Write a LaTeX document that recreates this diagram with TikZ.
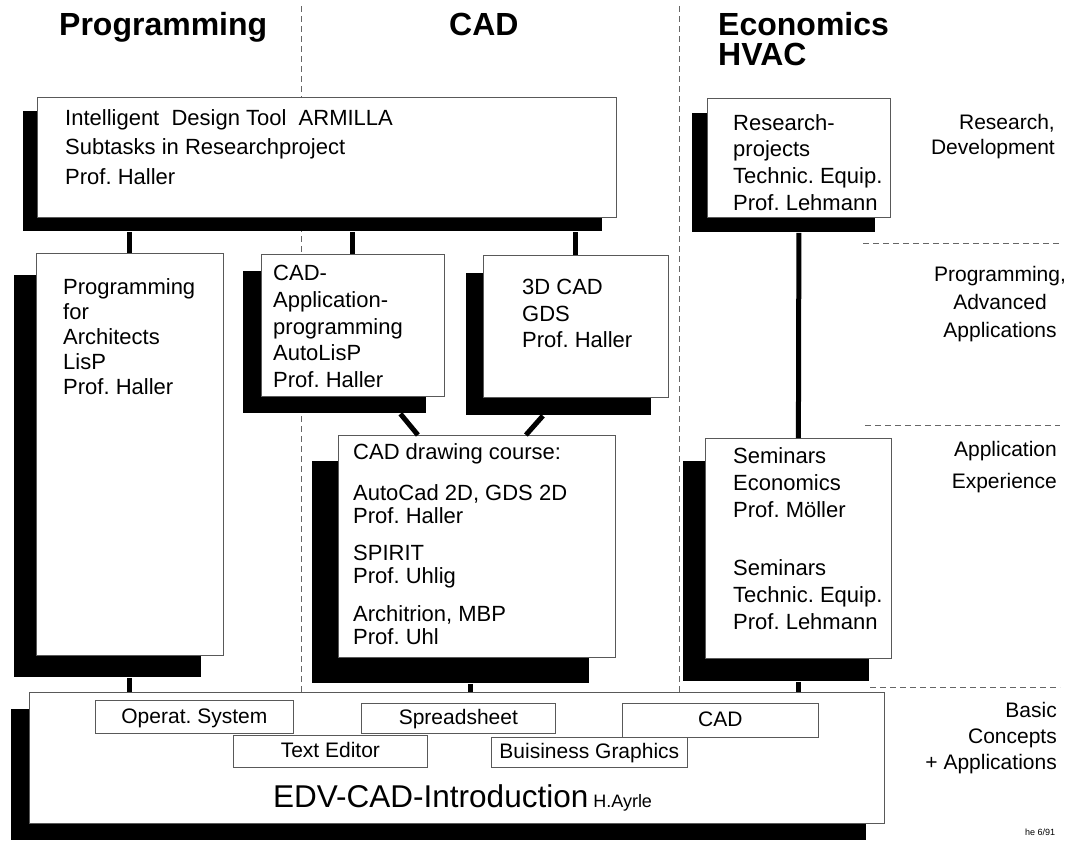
\documentclass[tikz,border=0pt]{standalone}
\usepackage{fontspec}
\setmainfont{Liberation Sans}
\usetikzlibrary{shadows,calc}
\frenchspacing
\begin{document}
\begin{tikzpicture}[x=1pt,y=-1pt,
  box/.style={draw=black!65, line width=0.8pt, fill=white, inner sep=0pt, anchor=north west},
  sh/.style 2 args={drop shadow={shadow xshift=#1pt, shadow yshift=-#2pt, fill=black, opacity=1, draw=none}},
  txt/.style={anchor=north west, inner sep=0pt, align=left, font=\fontsize{22}{25}\selectfont},
  lab/.style={inner sep=0pt, font=\fontsize{21}{25}\selectfont},
  head/.style={anchor=base west, inner sep=0pt, font=\fontsize{32}{28}\selectfont\bfseries},
  sbox/.style={draw=black!65, line width=0.7pt, fill=white, inner sep=0pt, anchor=north west,
    minimum width=196pt, minimum height=32pt, text height=14pt, text depth=1pt,
    font=\fontsize{21}{21}\selectfont},
  conn/.style={line width=5pt},
  dline/.style={draw=black!60, line width=0.8pt, dash pattern=on 6pt off 4pt}]
\useasboundingbox (0,0) rectangle (1065,841);

% separators
\coordinate (d1t) at (301,6);
\coordinate (d1b) at (301,692);
\coordinate (d2t) at (679,6);
\coordinate (d2b) at (679,692);
\draw[dline] (d1t) -- (d1b);
\draw[dline] (d2t) -- (d2b);
\coordinate (h1a) at (863,243); \coordinate (h1b) at (1060,243);
\coordinate (h2a) at (865,425); \coordinate (h2b) at (1060,425);
\coordinate (h3a) at (870,687); \coordinate (h3b) at (1060,687);
\draw[dline] (h1a) -- (h1b);
\draw[dline] (h2a) -- (h2b);
\draw[dline] (h3a) -- (h3b);

% headers
\node[head] (hprog) at (59,35) {Programming};
\node[head] (hcad) at (449,35) {CAD};
\node[head] (hecon) at (718,35) {Economics};
\node[head] (hhvac) at (718,65) {HVAC};

% boxes
\node[box, minimum width=579pt, minimum height=120pt, sh={-14}{14}] (top) at (37,97) {};
\node[txt, font=\fontsize{22}{29.5}\selectfont] (ttop) at (65,109)
  {Intelligent\ \ Design Tool\ \ ARMILLA\\Subtasks in Researchproject\\Prof. Haller};

\node[box, minimum width=187pt, minimum height=402pt, sh={-22}{22}] (prog) at (36,253) {};
\node[txt] (tprog) at (63,278) {Programming\\for\\Architects\\LisP\\Prof. Haller};

\node[box, minimum width=183pt, minimum height=142pt, sh={-18}{17}] (capp) at (261,254) {};
\node[txt, font=\fontsize{22}{26.8}\selectfont] (tcapp) at (273,265)
  {CAD-\\Application-\\programming\\AutoLisP\\Prof. Haller};

\node[box, minimum width=185pt, minimum height=142pt, sh={-17}{18}] (cad3) at (483,255) {};
\node[txt, font=\fontsize{22}{26.5}\selectfont] (tcad3) at (522,279) {3D CAD\\GDS\\Prof. Haller};

\node[box, minimum width=277pt, minimum height=222pt, sh={-26}{26}] (cdc) at (338,435) {};
\node[txt, font=\fontsize{22}{23}\selectfont] (tcdc) at (353,443)
  {CAD drawing course:\\[18pt]AutoCad 2D, GDS 2D\\Prof. Haller\\[14pt]SPIRIT\\Prof. Uhlig\\[15pt]Architrion, MBP\\Prof. Uhl};

\node[box, minimum width=183pt, minimum height=119pt, sh={-15}{15}] (res) at (707,98) {};
\node[txt, font=\fontsize{22}{26.7}\selectfont] (tres) at (733,114) {Research-\\projects\\Technic. Equip.\\Prof. Lehmann};

\node[box, minimum width=186pt, minimum height=220pt, sh={-22}{23}] (sem) at (705,438) {};
\node[txt, font=\fontsize{22}{27}\selectfont] (tsem) at (733,447)
  {Seminars\\Economics\\Prof. M\"oller\\[31pt]Seminars\\Technic. Equip.\\Prof. Lehmann};

\node[box, minimum width=855pt, minimum height=131pt, sh={-18}{17}] (edv) at (29,692) {};
\node[sbox, minimum width=198pt, minimum height=33pt] (os) at (95,700) {Operat. System};
\node[sbox, minimum width=194pt, minimum height=30pt] (ss) at (361,703) {Spreadsheet};
\node[sbox, minimum height=34pt] (scad) at (622,703) {CAD};
\node[sbox, minimum width=194pt] (te) at (233,735) {Text Editor};
\node[sbox, minimum width=196pt, minimum height=30pt] (bg) at (491,737) {Buisiness Graphics};
\node[anchor=base west, inner sep=0pt] (tedv) at (273,807)
  {{\fontsize{31.5}{31.5}\selectfont EDV-CAD-Introduction}\hspace{5pt}{\fontsize{18}{18}\selectfont H.Ayrle}};

% right labels
\node[lab, anchor=north east, align=right] (l1) at (1055,114.5) {Research,\\Development};
\node[lab, anchor=north, align=center, font=\fontsize{21}{28}\selectfont] (l2) at (1000,266.5) {Programming,\\Advanced\\Applications};
\node[lab, anchor=north east, align=right, font=\fontsize{21}{32}\selectfont] (l3) at (1057,441.5) {Application\\Experience};
\node[lab, anchor=north east, align=right, font=\fontsize{21}{26}\selectfont] (l4) at (1057,702.5) {Basic\\Concepts\\+ Applications};
\node[inner sep=0pt, font=\fontsize{9}{9}\selectfont] (date) at (1040,832) {he 6/91};

% connectors
\coordinate (topS) at ($(top.south)+(0,14)$);
\draw[conn] (prog.north) -- (prog.north |- topS);
\draw[conn] (capp.north) -- (capp.north |- topS);
\draw[conn] (cad3.north) -- (cad3.north |- topS);
\draw[conn] ($(capp.south)+(47.5,17)$) -- ($(cdc.north)+(-59,0)$);
\draw[conn] ($(cad3.south)+(-33,18)$) -- ($(cdc.north)+(49,0)$);
\draw[conn] ($(res.south)+(0,15)$) -- (sem.north);
\coordinate (progS) at ($(prog.south)+(0,22)$);
\coordinate (cdcS) at ($(cdc.south)+(-6.5,26)$);
\coordinate (semS) at ($(sem.south)+(0,23)$);
\draw[conn] (progS) -- (progS |- edv.north);
\draw[conn] (cdcS) -- (cdcS |- edv.north);
\draw[conn] (semS) -- (semS |- edv.north);
\end{tikzpicture}
\end{document}
